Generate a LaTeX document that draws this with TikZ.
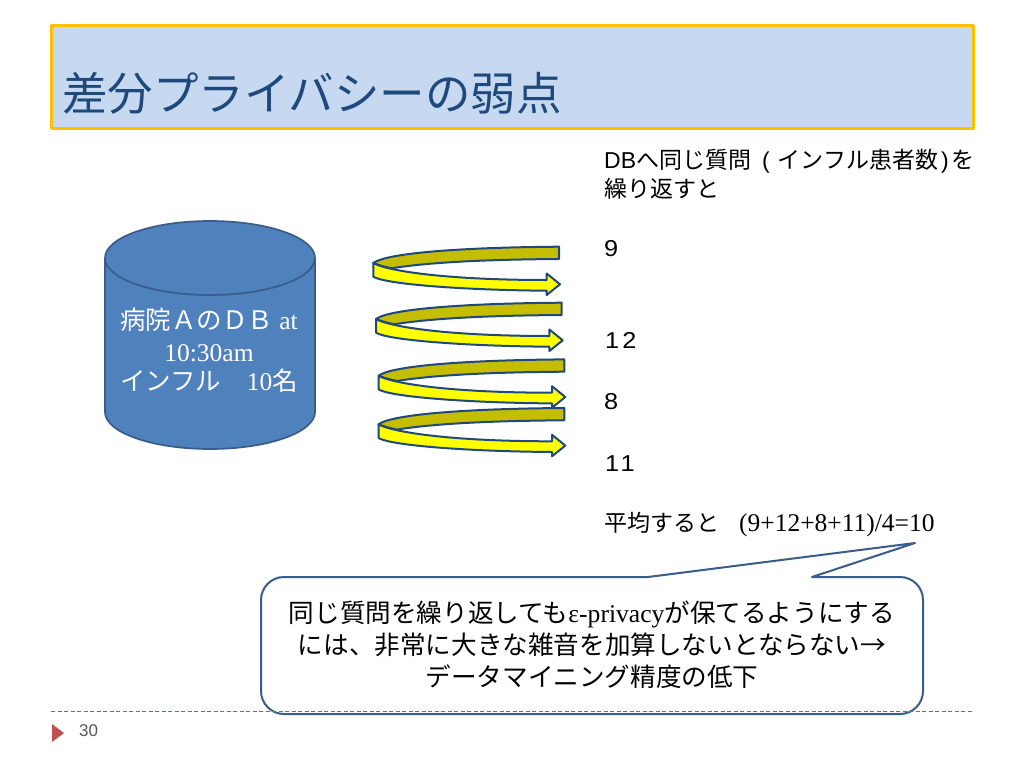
\documentclass[tikz,border=0pt]{standalone}
\usepackage{fontspec}
\setmainfont{Liberation Sans}
\newfontfamily\jpfont{Noto Sans CJK JP}
\newfontfamily\serifont{Liberation Serif}
\newfontfamily\digitfont[FakeStretch=1.1, LetterSpace=14]{Liberation Sans}
\definecolor{titlefill}{HTML}{C6D9F1}
\definecolor{titlegold}{HTML}{FFC000}
\definecolor{titleblue}{HTML}{1F497D}
\definecolor{dbblue}{HTML}{4F81BD}
\definecolor{dbedge}{HTML}{385D8A}
\definecolor{bandedge}{HTML}{1F497D}
\definecolor{bandback}{HTML}{C4BD00}
\definecolor{bandfront}{HTML}{FFFF00}
\definecolor{footred}{HTML}{C0504D}
\tikzset{
	answer/.style={anchor=west, inner sep=0pt, font=\fontsize{23}{29}\selectfont\jpfont, text=black},
	dbtext/.style={align=center, inner sep=0pt, text=white, font=\fontsize{25.5}{25.5}\selectfont\jpfont},
	spiral/.style={draw=bandedge, line width=2pt, line join=round}
}
\begin{document}
\begin{tikzpicture}[x=1pt, y=-1pt, line join=round, line cap=round]
	\useasboundingbox(0,0)rectangle(1024,768);
	\fill[white](0,0)rectangle(1024,768);
	% title
	\draw[fill=titlefill, draw=titlegold, line width=3pt, line cap=butt](51,26)rectangle(973,128);
	\node[anchor=west, inner sep=0pt, text=titleblue, font=\fontsize{45.5}{45.5}\selectfont\jpfont](titletext) at (62,93){差分プライバシーの弱点};
	% database
	\draw[fill=dbblue, draw=dbedge, line width=1.7pt](105,258)--(105,412)arc[start angle=180, end angle=0, x radius=105, y radius=37]--(315,258)arc[start angle=0, end angle=-360, x radius=105, y radius=37];
	\node[dbtext](dbname) at (209,320){病院ＡのＤＢ\kern6pt{\serifont at}};
	\node[dbtext](dbtime) at (209,353){\serifont 10:30am};
	\node[dbtext](dbflu) at (209,381){インフル　{\serifont 10}名};
	% spiral arrows
	\foreach \dx/\dy in {0/0, 2.7/56, 5.3/112.7, 5.3/161.3}{
		\begin{scope}[shift={(\dx,\dy)}]
			\draw[spiral, fill=bandback](559,246.7)--(559,259) .. controls (490,259.5) and (430,262) .. (391.7,268.3) .. controls (385,267) and (378,265) .. (373.3,263) .. controls (385,254) and (450,247.5) .. (559,246.7)--cycle;
			\draw[spiral, fill=bandfront](373.3,263) .. controls (385,270) and (440,280) .. (546.7,280)--(546.7,273.5)--(560,284.3)--(546.7,295)--(546.7,290.7) .. controls (460,290) and (385,284) .. (373.3,276.7)--cycle;
		\end{scope}
	}
	% right column
	\node[answer, align=left](question) at (604,174){{\rmfamily DB}へ同じ質問\kern11pt{\rmfamily(}\kern8pt インフル患者数\kern3pt{\rmfamily)}\kern3pt を\\繰り返すと};
	\node[answer](ansa) at (604,249){\digitfont 9};
	\node[answer](ansb) at (605,340){\digitfont 12};
	\node[answer](ansc) at (604,402){\digitfont 8};
	\node[answer](ansd) at (605,464){\digitfont 11};
	\node[answer](mean) at (604,525){平均すると\kern20pt{\fontsize{25.5}{25.5}\selectfont\serifont (9+12+8+11)/4=10}};
	% callout
	\draw[fill=white, draw=dbedge, line width=2pt](284,577)--(648,577)--(915,543)--(812,577)--(900,577) arc[start angle=-90, end angle=0, radius=23]--(923,691) arc[start angle=0, end angle=90, radius=23]--(284,714) arc[start angle=90, end angle=180, radius=23]--(261,600) arc[start angle=180, end angle=270, radius=23]--cycle;
	\node[align=center, inner sep=0pt, text=black, font=\fontsize{25.6}{32}\selectfont\jpfont](calloutline) at (592,645){同じ質問を繰り返しても{\serifont ε-privacy}が保てるようにする\\には、非常に大きな雑音を加算しないとならない→\\データマイニング精度の低下};
	% footer
	\draw[footred, dash pattern=on 4pt off 2.5pt, line width=1pt, line cap=butt](51,711)--(973,711);
	\fill[footred](52,724)--(64,733)--(52,742)--cycle;
	\node[anchor=west, inner sep=0pt, text=black!65, font=\fontsize{17}{17}\selectfont](pagenum) at (79,731){30};
\end{tikzpicture}
\end{document}
